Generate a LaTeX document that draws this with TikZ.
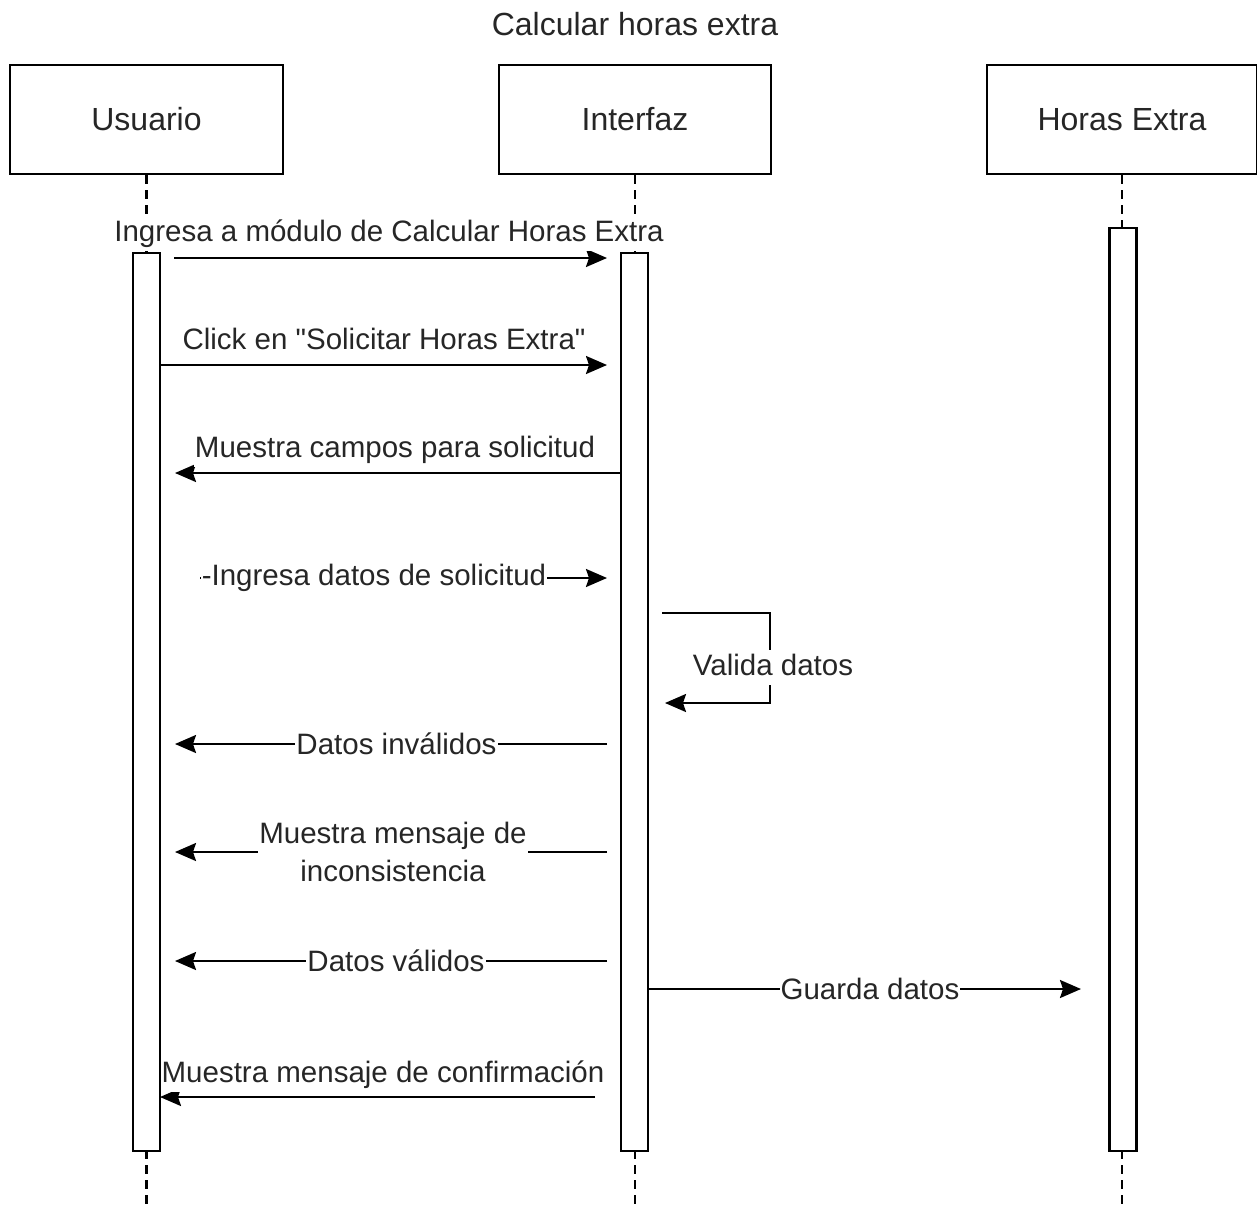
\documentclass[tikz,border=0pt]{standalone}
\usepackage{fontspec}
\setmainfont{Liberation Sans}
\usetikzlibrary{arrows.meta}
\begin{document}
\begin{tikzpicture}[x=1pt,y=-1pt,
  line width=2.2pt,
  actor/.style={draw, fill=white, minimum height=109pt, inner sep=0pt,
    font=\fontsize{32}{38}\selectfont, text=black!85},
  bar/.style={draw, fill=white, minimum width=27pt, inner sep=0pt},
  lifeline/.style={dash pattern=on 9pt off 6pt},
  msg/.style={-{Stealth[length=21pt,width=18pt,inset=3pt]}},
  lbl/.style={fill=white, inner xsep=1pt, inner ysep=3.5pt,
    font=\fontsize{29.5}{38}\selectfont, text=black!85, align=center},
  oneline/.style={lbl, text height=22pt, text depth=6pt}
]
\useasboundingbox (0,0) rectangle (1257,1207);

% title
\node[font=\fontsize{32}{38}\selectfont, text=black!85] (title) at (635,24) {Calcular horas extra};

% participants
\node[actor, minimum width=273pt] (usr) at (146.5,119.5) {Usuario};
\node[actor, minimum width=272pt] (ifz) at (635,119.5) {Interfaz};
\node[actor, minimum width=270pt] (hx) at (1122,119.5) {Horas Extra};

% lifelines
\coordinate (usrLow) at (147,1210);
\coordinate (ifzLow) at (635,1210);
\coordinate (hxLow) at (1123,1210);
\draw[lifeline] (usr.south) -- (usr.south |- usrLow);
\draw[lifeline] (ifz.south) -- (ifz.south |- ifzLow);
\draw[lifeline] (hx.south) -- (hx.south |- hxLow);

% activation bars
\node[bar, minimum height=898pt] (usrBar) at (146.5,702) {};
\node[bar, minimum height=898pt] (ifzBar) at (634.5,702) {};
\node[bar, minimum height=923pt] (hxBar) at (1123,689.5) {};

% message end points
\coordinate (m1s) at (174,258);  \coordinate (m1e) at (607,258);
\coordinate (m2s) at (160,365);  \coordinate (m2e) at (607,365);
\coordinate (m3s) at (621,473);  \coordinate (m3e) at (175,473);
\coordinate (m4s) at (200,578);  \coordinate (m4e) at (607,578);
\coordinate (s1) at (662,613);   \coordinate (s2) at (665,703);
\coordinate (m6s) at (607,744);  \coordinate (m6e) at (175,744);
\coordinate (m7s) at (607,852);  \coordinate (m7e) at (175,852);
\coordinate (m8s) at (607,961);  \coordinate (m8e) at (175,961);
\coordinate (m9s) at (648,989);  \coordinate (m9e) at (1081,989);
\coordinate (m10s) at (595,1097); \coordinate (m10e) at (160,1097);

% messages
\draw[msg] (m1s) -- (m1e);
\draw[msg] (m2s) -- (m2e);
\draw[msg] (m3s) -- (m3e);
\draw[msg] (m4s) -- (m4e);
\draw[msg] (s1) -- ++(108,0) |- (s2);
\draw[msg] (m6s) -- (m6e);
\draw[msg] (m7s) -- (m7e);
\draw[msg] (m8s) -- (m8e);
\draw[msg] (m9s) -- (m9e);
\draw[msg] (m10s) -- (m10e);

% message labels
\node[oneline] (l1) at (389,233) {Ingresa a módulo de Calcular Horas Extra};
\node[oneline] (l2) at (384,341.5) {Click en \textquotedbl Solicitar Horas Extra\textquotedbl};
\node[oneline] (l3) at (395,449.5) {Muestra campos para solicitud};
\node[oneline] (l4) at (374,577.5) {-Ingresa datos de solicitud};
\node[oneline] (l5) at (773,667) {Valida datos};
\node[oneline] (l6) at (396.5,746.5) {Datos inválidos};
\node[lbl] (l7) at (393,852) {Muestra mensaje de\\inconsistencia};
\node[oneline] (l8) at (396,963.5) {Datos válidos};
\node[oneline] (l9) at (870,991.5) {Guarda datos};
\node[oneline] (l10) at (383,1074.5) {Muestra mensaje de confirmación};
\end{tikzpicture}
\end{document}
